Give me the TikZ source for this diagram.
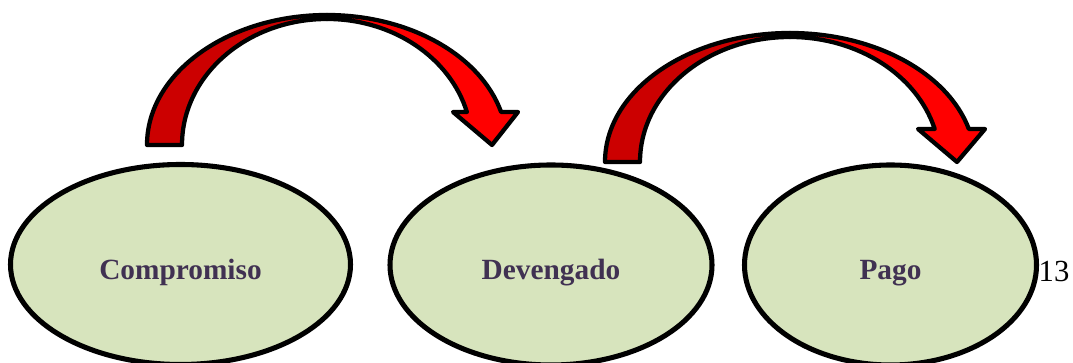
\documentclass[tikz,border=0pt]{standalone}
\usepackage{fontspec}
\setmainfont{Liberation Serif}
\usetikzlibrary{shapes.geometric,calc}

\definecolor{verdeclaro}{HTML}{D7E4BD}
\definecolor{morado}{HTML}{403152}
\definecolor{rojooscuro}{HTML}{CC0000}
\definecolor{rojovivo}{HTML}{FF0000}

\tikzset{
  etapa/.style={ellipse, draw=black, line width=3.8pt, fill=verdeclaro,
    inner sep=0pt, text height=22.5pt, text depth=0pt, text=morado,
    font=\fontsize{22}{26}\selectfont\bfseries},
  flecha/.style={draw=black, line width=3.2pt, line join=round}
}

\begin{document}
\begin{tikzpicture}[x=0.75pt,y=0.75pt]
    \useasboundingbox (0,0) rectangle (1073,363);

    % etapas
    \node[etapa, minimum width=255pt, minimum height=150pt] (compromiso) at (180.5,98.5) {Compromiso};
    \node[etapa, minimum width=241.5pt, minimum height=150pt] (devengado) at (551,98) {Devengado};
    \node[etapa, minimum width=219pt, minimum height=150pt] (pago) at (890.5,98) {Pago};

    % numero de pagina
    \node[font=\fontsize{23}{27}\selectfont] (pagina) at (1054,91) {13};

    % flecha curva 1
    \coordinate (arco1) at (327,218);
    \filldraw[flecha, fill=rojooscuro] ($(arco1)+(-180,0)$)
        arc[start angle=180, end angle=90, x radius=180, y radius=130]
        -- ($(arco1)+(0,126)$)
        arc[start angle=90, end angle=180, x radius=145, y radius=126] -- cycle;
    \filldraw[flecha, fill=rojovivo] ($(arco1)+(0,130)$)
        arc[start angle=90, end angle=14.7, x radius=180, y radius=130]
        -- ($(arco1)+(191,33)$) -- ($(arco1)+(165,0)$) -- ($(arco1)+(126,33)$)
        -- ($(arco1)+(139.9,33)$)
        arc[start angle=15.18, end angle=90, x radius=145, y radius=126] -- cycle;

    % flecha curva 2
    \coordinate (arco2) at (790,201);
    \filldraw[flecha, fill=rojooscuro] ($(arco2)+(-185,0)$)
        arc[start angle=180, end angle=90, x radius=185, y radius=129]
        -- ($(arco2)+(0,125)$)
        arc[start angle=90, end angle=180, x radius=150, y radius=125] -- cycle;
    \filldraw[flecha, fill=rojovivo] ($(arco2)+(0,129)$)
        arc[start angle=90, end angle=14.82, x radius=185, y radius=129]
        -- ($(arco2)+(195,33)$) -- ($(arco2)+(167,0)$) -- ($(arco2)+(128,33)$)
        -- ($(arco2)+(144.7,33)$)
        arc[start angle=15.31, end angle=90, x radius=150, y radius=125] -- cycle;
\end{tikzpicture}
\end{document}
